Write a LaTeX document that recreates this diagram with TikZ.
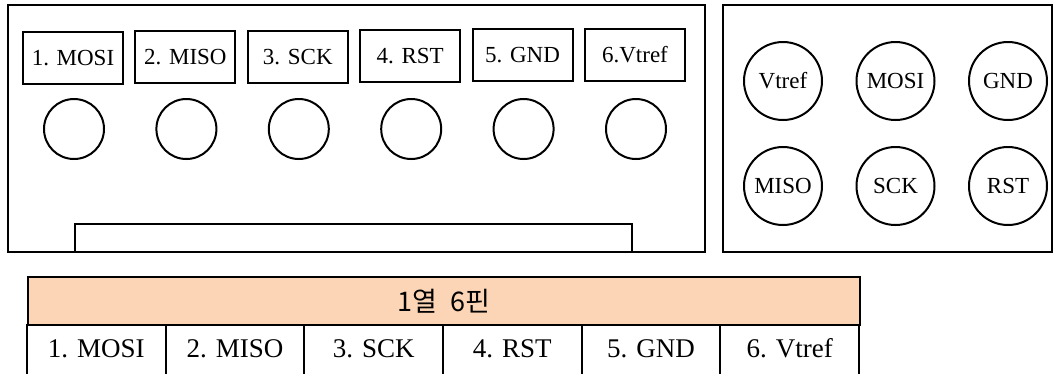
\documentclass[tikz,border=0pt]{standalone}
\usepackage{fontspec}
\setmainfont{Liberation Serif}
\newfontfamily\korfont{Noto Sans CJK KR}
\definecolor{headfill}{RGB}{251,213,181}

\begin{document}
\begin{tikzpicture}[x=1pt,y=-1pt,
		frame/.style={draw=black, line width=2.3pt},
		pinlabel/.style={draw=black, line width=2pt, minimum width=100pt, minimum height=52pt, inner sep=0pt, font=\fontsize{23}{23}\selectfont},
		hole/.style={draw=black, line width=2pt, circle, minimum size=60pt, inner sep=0pt},
		pinhole/.style={hole, minimum size=78pt, font=\fontsize{23}{23}\selectfont},
		cell/.style={minimum width=138.67pt, minimum height=49pt, inner sep=0pt, font=\fontsize{27}{27}\selectfont},
		grid/.style={draw=black, line width=2pt}
			]
	\useasboundingbox (0,0) rectangle (1058,373);

	\draw[frame] (8,5) rectangle (705,252);
	\draw[frame] (75,224) rectangle (632,252);
	\foreach \txt [count=\i] in {1. MOSI, 2. MISO, 3. SCK, 4. RST, 5. GND, 6.Vtref} {
		\node[pinlabel] (lbl\i) at ({73+112.4*(\i-1)},{58-0.7*(\i-1)}) {\txt};
		\node[hole] (hole\i) at ({74+112.4*(\i-1)},129) {};
	}

	\draw[frame] (723,5) rectangle (1052,252);
	\foreach \txt [count=\i] in {Vtref, MOSI, GND}
		\node[pinhole] (top\i) at ({783+112.5*(\i-1)},81) {\txt};
	\foreach \txt [count=\i] in {MISO, SCK, RST}
		\node[pinhole] (bot\i) at ({783+112.5*(\i-1)},186) {\txt};

	\node[grid, fill=headfill, minimum width=832pt, minimum height=48pt, inner sep=0pt, anchor=north west, font=\fontsize{27}{27}\selectfont] (head) at (27,276) {\korfont 1열\enspace 6핀};
	\foreach \txt [count=\i] in {1. MOSI, 2. MISO, 3. SCK, 4. RST, 5. GND, 6. Vtref}
		\node[cell] (col\i) at ({27+138.67*(\i-0.5)},348.5) {\txt};
	\foreach \i in {0,...,6}
		\draw[grid] ({27+138.67*\i},324) -- ({27+138.67*\i},376);
 \end{tikzpicture}
\end{document}
